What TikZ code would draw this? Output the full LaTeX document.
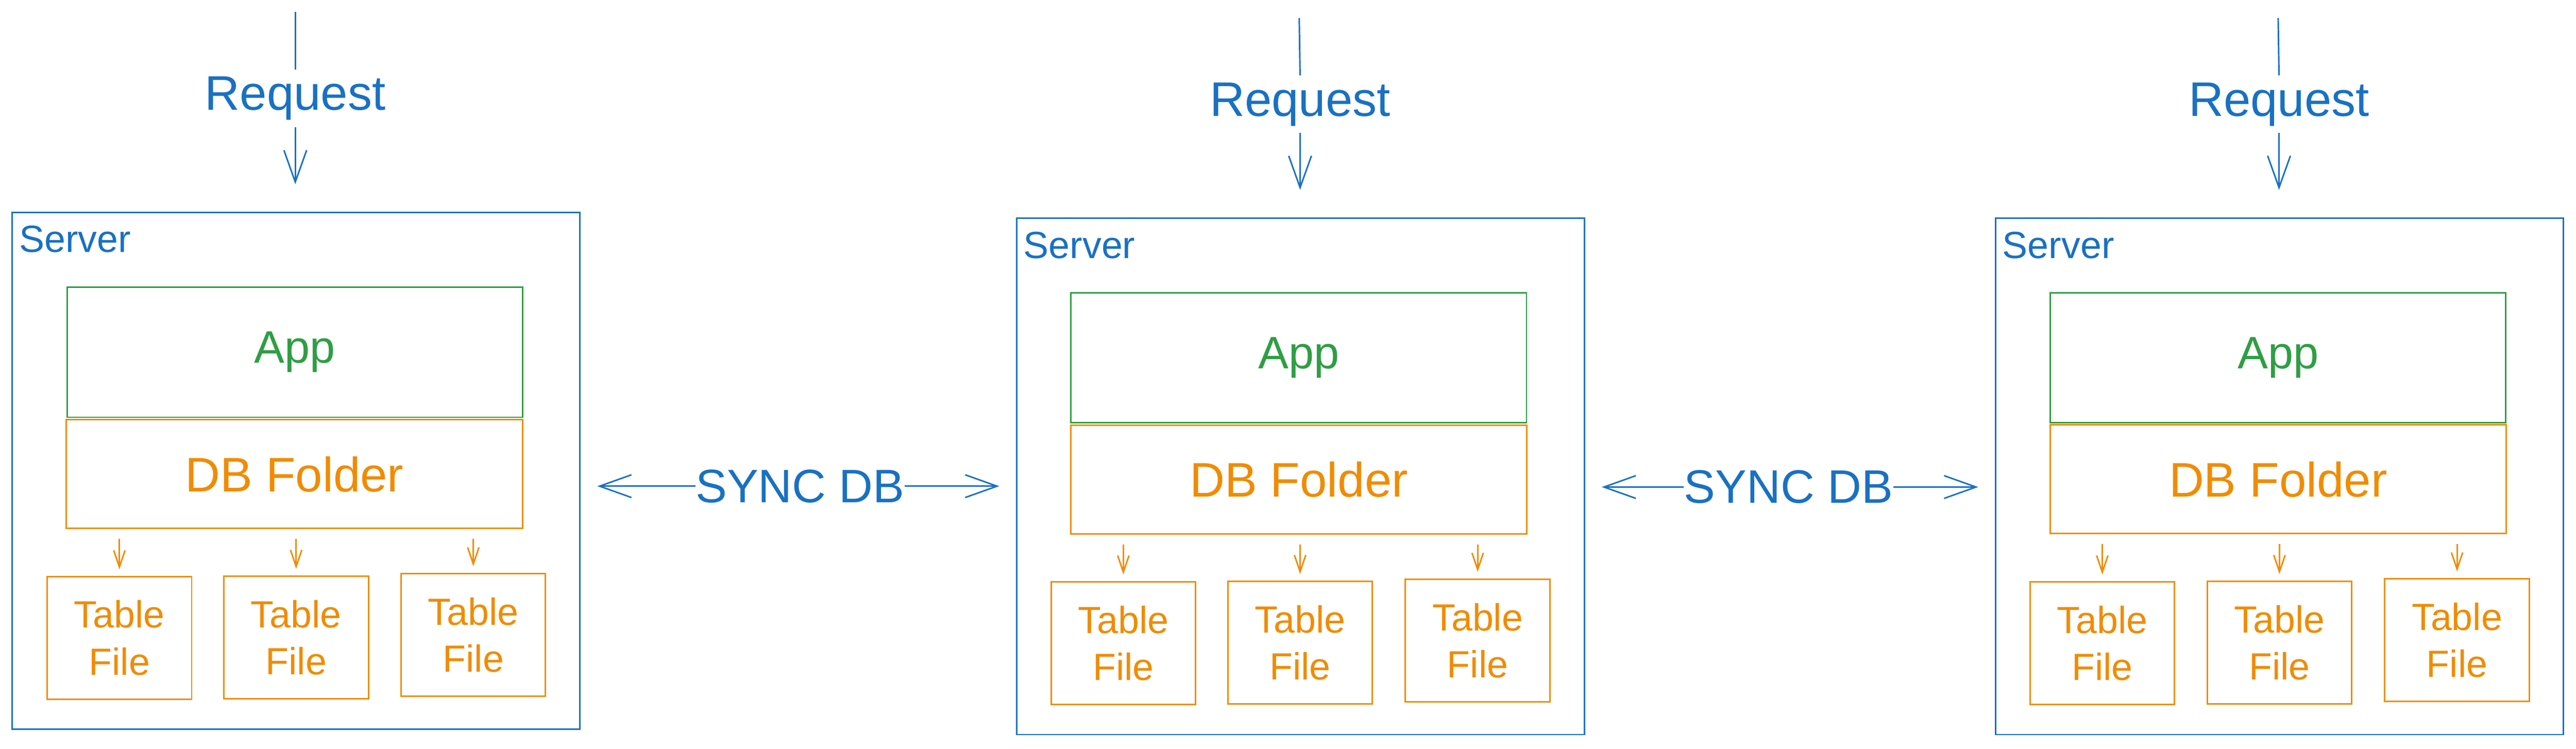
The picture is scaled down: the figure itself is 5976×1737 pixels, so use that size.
\documentclass[tikz,border=0pt]{standalone}
\usepackage{fontspec}
\setmainfont{Liberation Sans}
\usetikzlibrary{arrows.meta}

\definecolor{exblue}{HTML}{1971C2}
\definecolor{exgreen}{HTML}{2F9E44}
\definecolor{exorange}{HTML}{F08C00}

\tikzset{
  server/.style={draw=exblue, line width=1pt, minimum width=13.16cm, minimum height=11.98cm, inner sep=0},
  srvlabel/.style={text=exblue, font=\fontsize{25}{30}\selectfont, anchor=north west, inner sep=0},
  appbox/.style={draw=exgreen, text=exgreen, line width=1pt, minimum width=10.56cm, minimum height=3.02cm, inner sep=0, font=\fontsize{30}{36}\selectfont},
  dbbox/.style={draw=exorange, text=exorange, line width=1pt, minimum width=10.58cm, minimum height=2.52cm, inner sep=0, font=\fontsize{32}{38}\selectfont},
  tablebox/.style={draw=exorange, text=exorange, line width=1pt, minimum width=3.35cm, minimum height=2.84cm, inner sep=0, align=center, font=\fontsize{25}{31}\selectfont},
  reqlabel/.style={text=exblue, inner xsep=0, inner ysep=4.5pt, font=\fontsize{32}{38}\selectfont},
  synclabel/.style={text=exblue, inner xsep=0, font=\fontsize{31}{37}\selectfont},
  reqline/.style={draw=exblue, line width=1pt},
  reqarrow/.style={draw=exblue, line width=1pt, -{Straight Barb[length=21pt,width=15pt]}, shorten >=18pt},
  syncarrow/.style={draw=exblue, line width=1pt, -{Straight Barb[length=21pt,width=15pt]}, shorten >=11pt},
  tblarrow/.style={draw=exorange, line width=1pt, -{Straight Barb[length=11pt,width=7.5pt]}, shorten <=6.3pt, shorten >=4.3pt},
}

\begin{document}
\begin{tikzpicture}[x=0.01cm, y=-0.01cm]
        \useasboundingbox (0,0) rectangle (5976,1737);

        % server 1
        \node[server] (srv1) at (687,1092) {};
        \node[srvlabel] (srvlbl1) at ([shift={(17,32)}]srv1.north west) {Server};
        \node[appbox] (app1) at (684,817) {App};
        \node[dbbox] (db1) at (683,1100) {DB Folder};
        \node[tablebox] (tbl11) at (277,1480) {Table\\File};
        \node[tablebox] (tbl12) at (687,1479) {Table\\File};
        \node[tablebox] (tbl13) at (1098,1473) {Table\\File};

        \coordinate (reqtop1) at (685,28);
        \node[reqlabel] (req1) at (685,228) {Request};

        % server 2
        \node[server] (srv2) at (3017,1105) {};
        \node[srvlabel] (srvlbl2) at ([shift={(17,33)}]srv2.north west) {Server};
        \node[appbox] (app2) at (3013,830) {App};
        \node[dbbox] (db2) at (3013,1113) {DB Folder};
        \node[tablebox] (tbl21) at (2606,1492) {Table\\File};
        \node[tablebox] (tbl22) at (3016,1491) {Table\\File};
        \node[tablebox] (tbl23) at (3428,1486) {Table\\File};

        \coordinate (reqtop2) at (3014,42);
        \node[reqlabel] (req2) at (3016,242) {Request};

        % server 3
        \node[server] (srv3) at (5288,1105) {};
        \node[srvlabel] (srvlbl3) at ([shift={(17,33)}]srv3.north west) {Server};
        \node[appbox] (app3) at (5285,830) {App};
        \node[dbbox] (db3) at (5285,1112) {DB Folder};
        \node[tablebox] (tbl31) at (4877,1492) {Table\\File};
        \node[tablebox] (tbl32) at (5288,1491) {Table\\File};
        \node[tablebox] (tbl33) at (5700,1485) {Table\\File};

        \coordinate (reqtop3) at (5285,42);
        \node[reqlabel] (req3) at (5287,242) {Request};

        % sync labels
        \node[synclabel] (sync1) at (1856,1128) {SYNC DB};
        \node[synclabel] (sync2) at (4149,1130) {SYNC DB};

        % request connectors
        \draw[reqline] (reqtop1) -- (req1.north);
        \draw[reqarrow] (req1.south) -- (req1.south |- srv1.north);
        \draw[reqline] (reqtop2) -- (req2.north);
        \draw[reqarrow] (req2.south) -- (req2.south |- srv2.north);
        \draw[reqline] (reqtop3) -- (req3.north);
        \draw[reqarrow] (req3.south) -- (req3.south |- srv3.north);

        % sync connectors
        \draw[syncarrow] (sync1.west) -- (sync1.west -| srv1.east);
        \draw[syncarrow] (sync1.east) -- (sync1.east -| srv2.west);
        \draw[syncarrow] (sync2.west) -- (sync2.west -| srv2.east);
        \draw[syncarrow] (sync2.east) -- (sync2.east -| srv3.west);

        % table connectors
        \draw[tblarrow] (tbl11.north |- db1.south) -- (tbl11.north);
        \draw[tblarrow] (tbl12.north |- db1.south) -- (tbl12.north);
        \draw[tblarrow] (tbl13.north |- db1.south) -- (tbl13.north);
        \draw[tblarrow] (tbl21.north |- db2.south) -- (tbl21.north);
        \draw[tblarrow] (tbl22.north |- db2.south) -- (tbl22.north);
        \draw[tblarrow] (tbl23.north |- db2.south) -- (tbl23.north);
        \draw[tblarrow] (tbl31.north |- db3.south) -- (tbl31.north);
        \draw[tblarrow] (tbl32.north |- db3.south) -- (tbl32.north);
        \draw[tblarrow] (tbl33.north |- db3.south) -- (tbl33.north);
\end{tikzpicture}
\end{document}
